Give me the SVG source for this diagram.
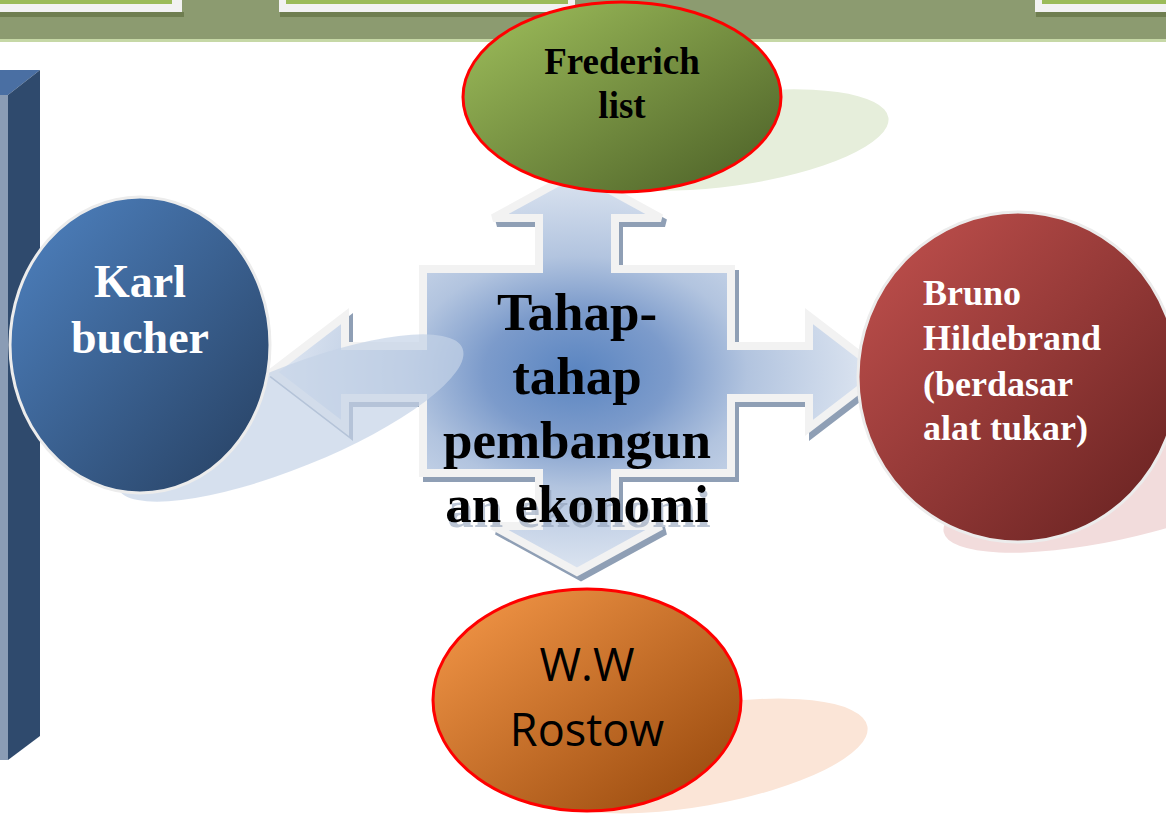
<svg xmlns="http://www.w3.org/2000/svg" width="1166" height="814" viewBox="0 0 1166 814">
<style>
.serif{font-family:"Liberation Serif","Times New Roman",serif;font-weight:bold}
.wt{fill:#ffffff}
.bk{fill:#000000}
.redline{stroke:#ff0000;stroke-width:3}
.greyline{stroke:#ececec;stroke-width:3}
.boxw{fill:#f2f2f2}
.boxg{fill:#9bbb59}
.boxs{fill:#6f7e50}
</style>
<defs>
<linearGradient id="gBlue" x1="0" y1="0" x2="1" y2="1"><stop offset="0" stop-color="#4f83c2"/><stop offset="1" stop-color="#263f60"/></linearGradient>
<linearGradient id="gGreen" x1="0" y1="0" x2="1" y2="1"><stop offset="0" stop-color="#a0c05c"/><stop offset="1" stop-color="#4a5e26"/></linearGradient>
<linearGradient id="gRed" x1="0" y1="0" x2="1" y2="1"><stop offset="0" stop-color="#c4524f"/><stop offset="1" stop-color="#64201f"/></linearGradient>
<linearGradient id="gOrange" x1="0" y1="0" x2="1" y2="1"><stop offset="0" stop-color="#f89a4a"/><stop offset="1" stop-color="#93450a"/></linearGradient>
<radialGradient id="gCross" gradientUnits="userSpaceOnUse" cx="577" cy="372" r="310" gradientTransform="translate(577 372) scale(1 0.68) translate(-577 -372)">
<stop offset="0" stop-color="#5a85c1"/><stop offset="0.3" stop-color="#7c9bcb"/><stop offset="0.55" stop-color="#b2c4df"/><stop offset="1" stop-color="#e2e9f3"/>
</radialGradient>
<filter id="ghost" x="-10%" y="-20%" width="120%" height="160%">
<feFlood flood-color="#8d9db6" flood-opacity="0.6" result="c"/>
<feComposite in="c" in2="SourceAlpha" operator="in" result="s"/>
<feOffset in="s" dx="2" dy="5" result="o"/>
<feMerge><feMergeNode in="o"/><feMergeNode in="SourceGraphic"/></feMerge>
</filter>
<path id="crossPath" d="M577,172 L661,218 L615,218 L615,269 L731,269 L731,346 L809,346 L809,316 L882,372 L809,428 L809,398 L731,398 L731,473 L615,473 L615,526 L661,526 L577,572 L493,526 L539,526 L539,473 L423,473 L423,398 L345,398 L345,428 L272,372 L345,316 L345,346 L423,346 L423,269 L539,269 L539,218 L493,218 Z"/>
</defs>

<rect x="0" y="0" width="1166" height="814" fill="#ffffff"/>

<g id="topband">
<rect x="0" y="0" width="1166" height="40" fill="#8c9b70"/>
<rect x="0" y="39" width="1166" height="3" fill="#c6d8a6"/>
<rect class="boxs" x="0" y="12" width="184" height="5"/>
<rect class="boxw" x="0" y="0" width="182" height="12"/>
<rect class="boxg" x="0" y="0" width="172" height="4"/>
<rect class="boxs" x="280" y="12" width="298" height="5"/>
<rect class="boxw" x="279" y="0" width="296" height="12"/>
<rect class="boxg" x="286" y="0" width="282" height="4"/>
<rect class="boxs" x="1036" y="12" width="130" height="5"/>
<rect class="boxw" x="1035" y="0" width="131" height="12"/>
<rect class="boxg" x="1042" y="0" width="124" height="4"/>
</g>

<g id="sidebar">
<polygon points="0,70 40,70 8,95 0,95" fill="#4a6fa3"/>
<polygon points="8,95 40,70 40,736 8,760" fill="#2f4a6d"/>
<rect x="0" y="95" width="8" height="665" fill="#8a9cb5"/>
</g>

<g id="shadows">
<ellipse cx="730" cy="140" rx="160" ry="46" transform="rotate(-8 730 140)" fill="#e6eedb"/>
<ellipse cx="700" cy="756" rx="170" ry="50" transform="rotate(-10 700 756)" fill="#fbe5d7"/>
<ellipse cx="1110" cy="497" rx="170" ry="44" transform="rotate(-12 1110 497)" fill="#f2dcdc"/>
</g>

<g id="connectors">
<use href="#crossPath" transform="translate(4 5)" fill="#8f9fb5" stroke="#8f9fb5" stroke-width="8" stroke-linejoin="miter"/>
<use href="#crossPath" fill="url(#gCross)" stroke="#f2f2f2" stroke-width="8" stroke-linejoin="miter"/>
<ellipse cx="290" cy="418" rx="186" ry="50" transform="rotate(-22 290 418)" fill="#c4d3e7" fill-opacity="0.7"/>
</g>

<g id="center-text">
<text class="serif bk" x="577" y="330" text-anchor="middle" font-size="53">Tahap-</text>
<text class="serif bk" x="577" y="394" text-anchor="middle" font-size="53">tahap</text>
<text class="serif bk" x="577" y="458" text-anchor="middle" font-size="53">pembangun</text>
<text class="serif bk" x="577" y="522" text-anchor="middle" font-size="53" filter="url(#ghost)">an ekonomi</text>
</g>

<g id="node-karl">
<ellipse cx="140" cy="345" rx="130" ry="148" fill="url(#gBlue)" class="greyline"/>
<text class="serif wt" x="140" y="297" text-anchor="middle" font-size="46">Karl</text>
<text class="serif wt" x="140" y="353" text-anchor="middle" font-size="46">bucher</text>
</g>

<g id="node-frederich">
<ellipse cx="622" cy="97" rx="159" ry="95" fill="url(#gGreen)" class="redline"/>
<text class="serif bk" x="622" y="74" text-anchor="middle" font-size="37">Frederich</text>
<text class="serif bk" x="622" y="118" text-anchor="middle" font-size="37">list</text>
</g>

<g id="node-bruno">
<ellipse cx="1018" cy="377" rx="160" ry="165" fill="url(#gRed)" class="greyline"/>
<text class="serif wt" x="923" y="305" font-size="36">Bruno</text>
<text class="serif wt" x="923" y="350" font-size="36">Hildebrand</text>
<text class="serif wt" x="923" y="396" font-size="36">(berdasar</text>
<text class="serif wt" x="923" y="440" font-size="36">alat tukar)</text>
</g>

<g id="node-rostow">
<ellipse cx="587" cy="700" rx="154" ry="111" fill="url(#gOrange)" class="redline"/>
<text x="587" y="681" text-anchor="middle" font-size="45" font-family="'Open Sans','Noto Sans','Liberation Sans',sans-serif" fill="#000">W.W</text>
<text x="587" y="746" text-anchor="middle" font-size="45" font-family="'Open Sans','Noto Sans','Liberation Sans',sans-serif" fill="#000">Rostow</text>
</g>
</svg>
